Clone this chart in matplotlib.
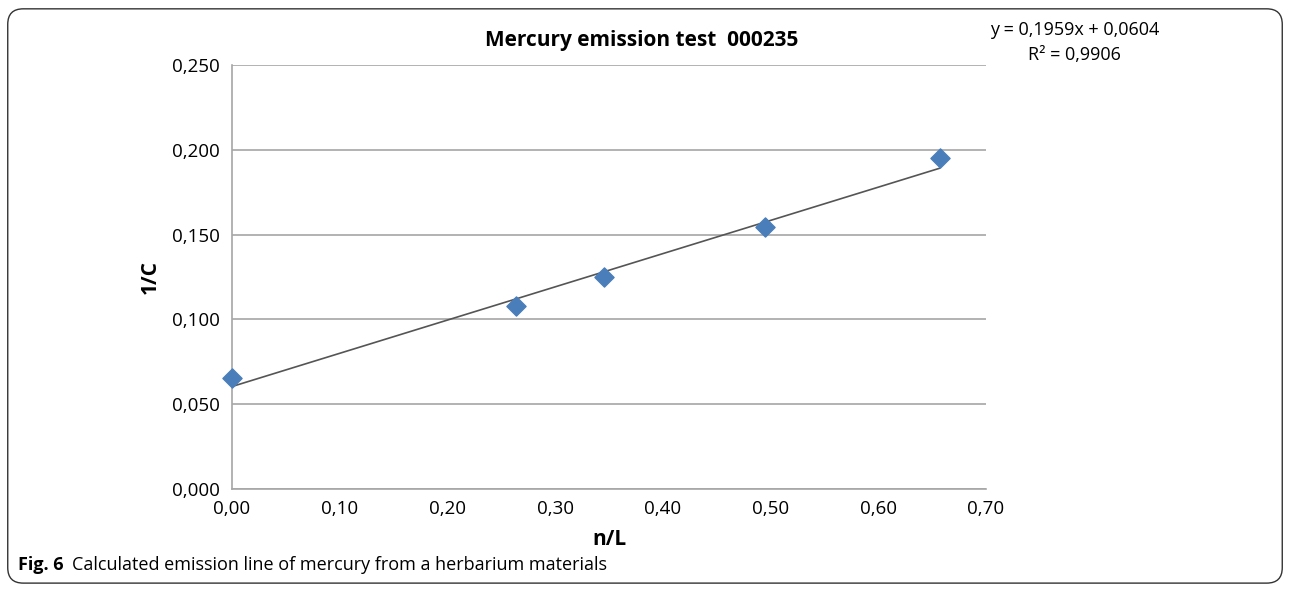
import matplotlib.pyplot as plt
from matplotlib.patches import FancyBboxPatch
from matplotlib.ticker import FuncFormatter

n_over_L = [0.0, 0.264, 0.345, 0.495, 0.657]
inv_C = [0.0655, 0.108, 0.125, 0.1545, 0.195]
slope = 0.1959
intercept = 0.0604
r2 = 0.9906

plt.rcParams['font.family'] = ['Open Sans', 'DejaVu Sans']

fig = plt.figure(figsize=(12.9, 5.89), dpi=100)
ax = fig.add_axes([0.1798, 0.1698, 0.5845, 0.7199])

# trendline from the fitted coefficients
xs = [min(n_over_L), max(n_over_L)]
ax.plot(xs, [slope * x + intercept for x in xs], color='#555555', lw=1.2, zorder=2)
ax.scatter(n_over_L, inv_C, marker='D', s=95, color='#4a7ebb', zorder=3, clip_on=False)

ax.set_xlim(0, 0.7)
ax.set_ylim(0, 0.25)
ax.set_xticks([0.0, 0.1, 0.2, 0.3, 0.4, 0.5, 0.6, 0.7])
ax.set_yticks([0.0, 0.05, 0.1, 0.15, 0.2, 0.25])
ax.xaxis.set_major_formatter(FuncFormatter(lambda v, p: f'{v:.2f}'.replace('.', ',')))
ax.yaxis.set_major_formatter(FuncFormatter(lambda v, p: f'{v:.3f}'.replace('.', ',')))
ax.tick_params(length=0, labelsize=13.5, colors='black', pad=9)
ax.tick_params(axis='x', pad=8)
ax.grid(axis='y', color='#a6a6a6', lw=1.2)
ax.set_axisbelow(True)
for s in ['top', 'right']:
    ax.spines[s].set_visible(False)
for s in ['left', 'bottom']:
    ax.spines[s].set_color('#a6a6a6')
    ax.spines[s].set_linewidth(1.2)

ax.set_xlabel('n/L', fontsize=15, fontweight='bold', labelpad=8)
ax.set_ylabel('1/C', fontsize=15, fontweight='bold', labelpad=8)
fig.text(0.4977, 0.932, 'Mercury emission test  000235', ha='center', va='center',
         fontsize=15, fontweight='bold')
fig.text(0.833, 0.949, f'y = {slope:.4f}x + {intercept:.4f}'.replace('.', ','),
         ha='center', va='center', fontsize=13)
fig.text(0.833, 0.906, f'R² = {r2:.4f}'.replace('.', ','),
         ha='center', va='center', fontsize=13)

fig.text(0.014, 0.041, 'Fig. 6', fontsize=13, fontweight='bold', ha='left', va='center')
fig.text(0.056, 0.041, 'Calculated emission line of mercury from a herbarium materials',
         fontsize=13, ha='left', va='center')

box = FancyBboxPatch((0.006, 0.01), 0.988, 0.975, boxstyle='round,pad=0,rounding_size=0.012',
                     transform=fig.transFigure, fill=False, ec='#333333', lw=1.0,
                     mutation_aspect=1290 / 589)
fig.patches.append(box)

fig.savefig('out.png', dpi=100)
